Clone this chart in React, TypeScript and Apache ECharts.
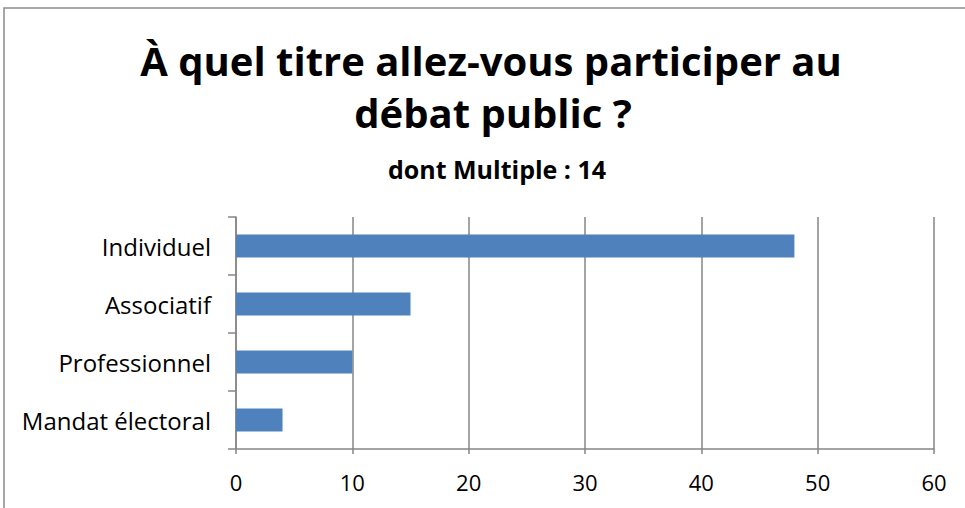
import React, { useEffect, useRef } from "react";
import * as echarts from "echarts";

const categories = ["Individuel", "Associatif", "Professionnel", "Mandat électoral"];
const values = [48, 15, 10, 4];
const titleLines = ["À quel titre allez-vous participer au", "débat public ?"];
const subtitle = "dont Multiple : 14";

const FONT = "'Open Sans', Lato, sans-serif";
const GRAY = "#868686";

export default function App() {
  const ref = useRef<HTMLDivElement>(null);
  useEffect(() => {
    if (!ref.current) return;
    const chart = echarts.init(ref.current, null, { renderer: "svg" });
    chart.setOption({
      animation: false,
      backgroundColor: "#ffffff",
      graphic: [
        {
          type: "rect",
          shape: { x: 4, y: 8, width: 1100, height: 700 },
          style: { fill: "none", stroke: "#8c8c8c", lineWidth: 1.5 },
          silent: true,
        },
        {
          type: "text",
          x: 491,
          y: 60,
          style: {
            text: titleLines[0],
            fill: "#000",
            font: `bold 40px ${FONT}`,
            textAlign: "center",
            textVerticalAlign: "middle",
          },
        },
        {
          type: "text",
          x: 493,
          y: 112,
          style: {
            text: titleLines[1],
            fill: "#000",
            font: `bold 40px ${FONT}`,
            textAlign: "center",
            textVerticalAlign: "middle",
          },
        },
        {
          type: "text",
          x: 497,
          y: 169,
          style: {
            text: subtitle,
            fill: "#000",
            font: `bold 25px ${FONT}`,
            textAlign: "center",
            textVerticalAlign: "middle",
          },
        },
      ],
      grid: { left: 236, right: 31, top: 217, bottom: 59, containLabel: false },
      xAxis: {
        type: "value",
        min: 0,
        max: 60,
        interval: 10,
        axisLine: { show: true, lineStyle: { color: GRAY, width: 1.5 } },
        axisTick: { show: true, length: 5, lineStyle: { color: GRAY, width: 1.5 } },
        splitLine: { show: true, lineStyle: { color: GRAY, width: 1.5 } },
        axisLabel: { color: "#000", fontSize: 22, fontFamily: FONT, margin: 22 },
      },
      yAxis: {
        type: "category",
        inverse: true,
        data: categories,
        axisLine: { show: true, lineStyle: { color: GRAY, width: 1.5 } },
        axisTick: { show: true, length: 8, lineStyle: { color: GRAY, width: 1.5 } },
        splitLine: { show: false },
        axisLabel: { color: "#000", fontSize: 24, fontFamily: FONT, margin: 25 },
      },
      series: [
        {
          type: "bar",
          data: values,
          barCategoryGap: "60%",
          itemStyle: { color: "#4F81BD" },
        },
      ],
    });
    return () => chart.dispose();
  }, []);
  return (
    <div
      ref={ref}
      style={{ position: "absolute", left: 0, top: 0, width: 965, height: 508 }}
    />
  );
}
